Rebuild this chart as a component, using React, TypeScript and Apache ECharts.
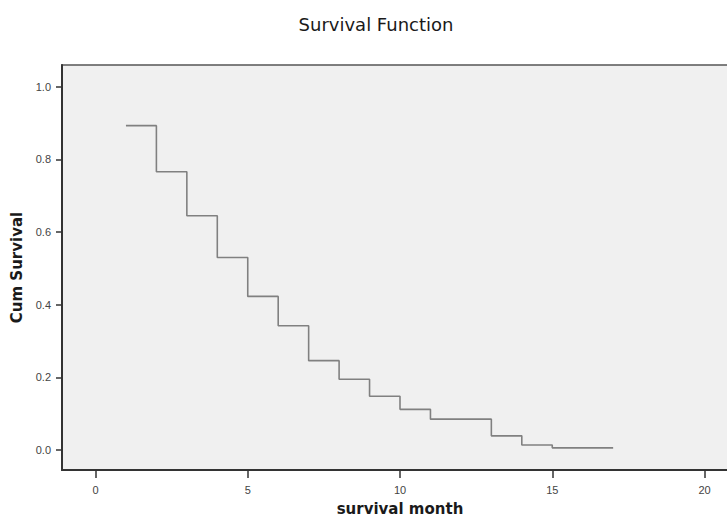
import React, { useEffect, useRef } from "react";
import * as echarts from "echarts";

const months = [1, 2, 3, 4, 5, 6, 7, 8, 9, 10, 11, 13, 14, 15, 17];
const cumSurvival = [0.893, 0.766, 0.645, 0.53, 0.423, 0.342, 0.246, 0.195, 0.148, 0.112, 0.085, 0.039, 0.014, 0.006, 0.006];
const xTicks = [0, 5, 10, 15, 20];
const yTicks = [0, 0.2, 0.4, 0.6, 0.8, 1.0];

export default function App() {
  const ref = useRef<HTMLDivElement>(null);
  useEffect(() => {
    if (!ref.current) return;
    const chart = echarts.init(ref.current, null, { renderer: "svg" });
    const font = "Liberation Sans, Arial, sans-serif";
    const wide = "DejaVu Sans, sans-serif";
    chart.setOption({
      animation: false,
      backgroundColor: "#ffffff",
      title: {
        text: "Survival Function",
        left: 371,
        textAlign: "center",
        top: 10,
        textStyle: { fontFamily: wide, fontSize: 18, fontWeight: "normal", color: "#1a1a1a" },
      },
      grid: {
        left: 62,
        right: -11,
        top: 65,
        bottom: 47,
        show: true,
        outerBoundsMode: "none",
        containLabel: false,
        backgroundColor: "#f0f0f0",
        borderColor: "#555",
        borderWidth: 1.5,
      },
      xAxis: {
        type: "value",
        min: -1.1,
        max: 21.1,
        name: "survival month",
        nameLocation: "middle",
        nameGap: 31,
        nameTextStyle: { fontFamily: wide, fontSize: 15, fontWeight: "bold", color: "#1a1a1a" },
        axisLine: { show: true, onZero: false, lineStyle: { color: "#333", width: 2 } },
        axisTick: { show: true, length: 8, lineStyle: { color: "#333", width: 1.5 }, customValues: xTicks },
        axisLabel: {
          fontFamily: font,
          fontSize: 11,
          color: "#444",
          margin: 14,
          customValues: xTicks,
        },
        splitLine: { show: false },
      },
      yAxis: {
        type: "value",
        min: -0.055,
        max: 1.06,
        name: "Cum Survival",
        nameLocation: "middle",
        nameGap: 33,
        nameRotate: 90,
        nameTextStyle: { fontFamily: wide, fontSize: 15, fontWeight: "bold", color: "#1a1a1a" },
        axisLine: { show: true, onZero: false, lineStyle: { color: "#333", width: 2 } },
        axisTick: { show: true, length: 6, lineStyle: { color: "#333", width: 1.5 }, customValues: yTicks },
        axisLabel: {
          fontFamily: font,
          fontSize: 11,
          color: "#444",
          margin: 11,
          customValues: yTicks,
          formatter: (v: number) => v.toFixed(1),
        },
        splitLine: { show: false },
      },
      series: [
        {
          type: "line",
          step: "end",
          showSymbol: false,
          symbol: "none",
          data: months.map((m, i) => [m, cumSurvival[i]]),
          lineStyle: { color: "#808080", width: 1.6 },
        },
      ],
    });
    return () => chart.dispose();
  }, []);
  return (
    <div
      ref={ref}
      style={{ position: "fixed", left: 0, top: 0, width: 727, height: 517 }}
    />
  );
}
